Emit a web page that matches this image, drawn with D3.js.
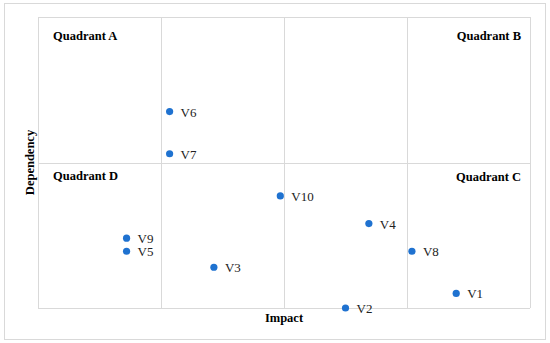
<!DOCTYPE html>
<html>
<head>
<meta charset="utf-8">
<script src="https://cdn.jsdelivr.net/npm/d3@7"></script>
<style>
  body { margin: 0; background: #fff; }
  text { font-family: "Liberation Serif", "DejaVu Serif", serif; }
</style>
</head>
<body>
<svg width="550" height="343"></svg>
<script>
// point data
const names = ["V1", "V2", "V3", "V4", "V5", "V6", "V7", "V8", "V9", "V10"];
const impact = [3.40, 2.50, 1.43, 2.69, 0.72, 1.07, 1.07, 3.04, 0.72, 1.97];
const dependency = [0.10, 0.00, 0.28, 0.58, 0.39, 1.35, 1.06, 0.39, 0.48, 0.77];
const xTicks = [0, 1, 2, 3, 4];
const yTicks = [0, 1, 2];
const quadrants = ["Quadrant A", "Quadrant B", "Quadrant C", "Quadrant D"];

const svg = d3.select("svg");
const plot = { left: 38, right: 530, top: 17, bottom: 308 };

// outer frame
svg.append("rect")
    .attr("x", 4.5).attr("y", 3.5)
    .attr("width", 541).attr("height", 336)
    .attr("fill", "none")
    .attr("stroke", "#d9d9d9");

const x = d3.scaleLinear().domain([0, 4]).range([plot.left, plot.right]);
const y = d3.scaleLinear().domain([0, 2]).range([plot.bottom, plot.top]);

// gridlines
svg.append("g").selectAll("line")
    .data(xTicks)
    .enter().append("line")
    .attr("x1", d => Math.round(x(d)) + 0.5).attr("x2", d => Math.round(x(d)) + 0.5)
    .attr("y1", plot.top).attr("y2", plot.bottom)
    .attr("stroke", "#d9d9d9");

svg.append("g").selectAll("line")
    .data(yTicks)
    .enter().append("line")
    .attr("y1", d => Math.round(y(d)) + 0.5).attr("y2", d => Math.round(y(d)) + 0.5)
    .attr("x1", plot.left).attr("x2", plot.right)
    .attr("stroke", "#d9d9d9");

// quadrant labels
const qpos = [
    { x: plot.left + 15, y: 40, anchor: "start" },
    { x: plot.right - 9, y: 40, anchor: "end" },
    { x: plot.right - 9, y: 181, anchor: "end" },
    { x: plot.left + 15, y: 180, anchor: "start" }
];
svg.append("g").selectAll("text")
    .data(quadrants)
    .enter().append("text")
    .attr("x", (d, i) => qpos[i].x)
    .attr("y", (d, i) => qpos[i].y)
    .attr("text-anchor", (d, i) => qpos[i].anchor)
    .attr("font-size", 12.5)
    .attr("font-weight", "bold")
    .text(d => d);

// points
const pts = names.map((n, i) => ({ name: n, x: impact[i], y: dependency[i] }));

svg.append("g").selectAll("circle")
    .data(pts)
    .enter().append("circle")
    .attr("cx", d => x(d.x))
    .attr("cy", d => y(d.y))
    .attr("r", 3.6)
    .attr("fill", "#1f72d0");

svg.append("g").selectAll("text")
    .data(pts)
    .enter().append("text")
    .attr("x", d => x(d.x) + 11)
    .attr("y", d => y(d.y) + 5)
    .attr("font-size", 13)
    .attr("fill", "#222")
    .text(d => d.name);

// axis titles
svg.append("text")
    .attr("x", (plot.left + plot.right) / 2)
    .attr("y", 322)
    .attr("text-anchor", "middle")
    .attr("font-size", 12.5)
    .attr("font-weight", "bold")
    .text("Impact");

svg.append("text")
    .attr("transform", `translate(34, ${(plot.top + plot.bottom) / 2}) rotate(-90)`)
    .attr("text-anchor", "middle")
    .attr("font-size", 12.5)
    .attr("font-weight", "bold")
    .text("Dependency");
</script>
</body>
</html>
